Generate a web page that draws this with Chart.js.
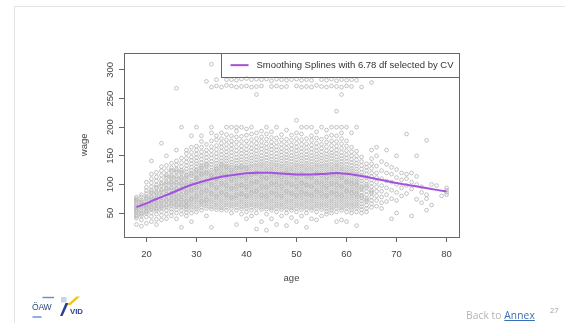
<!DOCTYPE html>
<html><head><meta charset="utf-8">
<script src="https://cdn.jsdelivr.net/npm/chart.js@4.4.0/dist/chart.umd.min.js"></script>
<style>
html,body{margin:0;padding:0;background:#fff;width:565px;height:323px;overflow:hidden;}
#wrap{position:relative;width:565px;height:323px;}
#c{position:absolute;left:0;top:0;}
.frameTop{position:absolute;left:14px;top:6px;width:551px;height:1px;background:#e4e4e4;}
.frameLeft{position:absolute;left:14px;top:6px;width:1px;height:317px;background:#e4e4e4;}
.back{position:absolute;left:466px;top:308px;font:10.2px "Open Sans",sans-serif;color:#b4b4b4;white-space:nowrap;letter-spacing:0.1px;}
.back span{color:#3a6db3;text-decoration:underline;}
.page{position:absolute;left:550px;top:305px;font:7.5px "Open Sans",sans-serif;color:#a0a0a0;}
#logo{position:absolute;left:28px;top:292px;}
</style></head>
<body><div id="wrap">
<div class="frameTop"></div><div class="frameLeft"></div>
<canvas id="c" width="565" height="323"></canvas>
<svg id="logo" width="64" height="30" viewBox="0 0 64 30">
  <line x1="14.5" y1="5.5" x2="26" y2="5.5" stroke="#5b8fd6" stroke-width="1.4"/>
  <text x="4" y="17.5" font-family="Liberation Sans" font-size="8.6" fill="#2d4a7a" letter-spacing="-0.3">ÖAW</text>
  <line x1="4.5" y1="25" x2="13.5" y2="25" stroke="#5b8fd6" stroke-width="1.4"/>
  <rect x="33" y="5" width="5.5" height="5.5" fill="#c9d4e8"/>
  <polygon points="39,13 48.5,4.5 52,4.5 42.5,13" fill="#f2c21b"/>
  <polygon points="32,24 37.5,11 40.5,11 34.5,24" fill="#2b3f8f"/>
  <text x="42" y="21.5" font-family="Liberation Sans" font-size="7.8" font-weight="bold" fill="#2b3f8f">VID</text>
</svg>
<div class="back">Back to <span>Annex</span></div>
<div class="page">27</div>
</div>
<script>
const xTicks=[20,30,40,50,60,70,80];
const yTicks=[50,100,150,200,250,300];
const xTitle='age';
const yTitle='wage';
const legendLabel='Smoothing Splines with 6.78 df selected by CV';

const ageValues=[18,19,20,21,22,23,24,25,26,27,28,29,30,31,32,33,34,35,36,37,38,39,40,41,42,43,44,45,46,47,48,49,50,51,52,53,54,55,56,57,58,59,60,61,62,63,64,65,66,67,68,69,70,71,72,73,74,75,76,77,78,79,80];

const wageColumns=[
[30,41,46,50,53,57,60,62,65,68,71,75,78,44,55,73],
[27,38,45,50,54,58,61,65,69,73,78,82,48,63,70],
[32,43,49,54,58,62,66,70,74,79,84,89,95,104,52,64,76,60],
[35,44,51,56,61,65,70,74,79,84,90,96,103,110,118,141,59,68,77,87],
[30,39,48,54,59,63,68,72,77,82,87,93,99,106,113,121,57,66,75,85,95],
[38,46,53,58,63,67,72,76,81,86,91,97,103,109,116,124,131,172,61,70,79,89,100],
[40,48,55,60,65,70,74,79,84,89,94,99,105,111,117,124,133,150,63,72,82,92,102,114],
[45,52,57,62,67,71,76,80,85,90,95,100,105,110,116,122,129,137,65,74,83,93,103,113,125],
[40,50,56,61,66,70,75,79,84,89,94,99,104,109,115,121,127,134,141,160,268,64,73,82,92,102,112,124],
[25,48,55,60,65,69,74,78,83,88,93,98,103,108,113,119,125,131,138,146,200,63,72,81,91,101,111,122],
[45,51,56,60,64,68,72,76,80,84,88,92,96,100,104,108,112,117,122,127,133,139,146,154,160,70,86,98,115,62],
[35,50,56,60,64,68,72,76,80,84,88,92,96,100,105,110,115,120,125,130,136,142,148,156,165,185,74,90,102,118],
[52,57,61,65,69,73,77,81,85,89,93,97,101,105,109,113,117,121,126,131,136,141,147,153,160,167,200,79,95,111,124],
[55,60,64,68,72,76,80,84,88,92,96,100,104,108,112,116,120,124,128,133,138,144,150,157,165,175,185,70,86,102,118,130],
[45,58,62,66,70,74,78,82,86,90,94,98,102,106,110,114,118,122,126,131,136,141,147,153,160,170,280,73,89,105,121,134],
[25,57,61,65,69,73,77,81,85,89,93,97,101,105,109,113,117,121,125,130,135,140,146,152,159,166,176,190,200,310,270,84,100,116],
[56,60,64,68,72,76,80,84,88,92,96,100,104,108,112,116,120,124,128,132,137,142,148,154,161,168,178,185,283,272,79,95,111,127],
[55,59,63,67,71,75,79,83,87,91,95,99,103,107,111,115,119,123,127,131,136,141,146,152,158,165,172,180,190,270,86,102,118,134],
[55,60,64,68,72,76,80,84,88,92,96,100,104,108,112,116,120,124,128,132,136,141,146,151,157,163,170,178,187,200,283,273,82,98,114,130],
[50,58,62,66,70,74,78,82,86,90,94,98,102,106,110,114,118,122,126,130,134,139,144,150,156,162,169,176,185,200,283,272,77,93,109,125],
[30,55,60,64,68,72,76,80,84,88,92,96,100,104,108,112,116,120,124,128,132,137,142,147,153,159,166,174,183,193,200,282,270,81,97,113,129],
[48,57,61,65,69,73,77,81,85,89,93,97,101,105,109,113,117,121,125,129,133,138,143,148,154,160,167,175,184,200,284,271,83,99,115,131],
[40,52,58,62,66,70,74,78,82,86,90,94,98,102,106,110,114,118,122,126,130,134,139,144,149,155,161,168,176,186,197,285,272,80,96,112,128],
[45,55,60,64,68,72,76,80,84,88,92,96,100,104,108,112,116,120,124,128,132,136,141,146,151,157,163,170,178,188,200,283,270,85,101,117],
[22,50,58,62,66,70,74,78,82,86,90,94,98,102,106,110,114,118,122,126,130,134,138,143,148,153,159,165,172,180,190,257,284,271,88,104,120],
[35,56,60,64,68,72,76,80,84,88,92,96,100,104,108,112,116,120,124,128,132,136,140,145,150,156,162,168,175,183,193,283,272,81,97,113],
[20,48,57,61,65,69,73,77,81,85,89,93,97,101,105,109,113,117,121,125,129,133,137,142,147,152,158,164,171,179,188,200,284,79,95,111],
[40,55,59,63,67,71,75,79,83,87,91,95,99,103,107,111,115,119,123,127,131,135,139,144,149,155,161,167,174,182,192,281,271,86,102,118],
[30,52,58,62,66,70,74,78,82,86,90,94,98,102,106,110,114,118,122,126,130,134,138,143,148,154,160,166,173,181,200,284,272,83,99,115],
[45,56,60,64,68,72,76,80,84,88,92,96,100,104,108,112,116,120,124,128,132,136,141,146,151,157,163,170,178,187,283,270,80,97,113],
[28,50,57,61,65,69,73,77,81,85,89,93,97,101,105,109,113,117,121,125,129,133,137,142,147,152,158,164,171,179,195,282,271,88,104,120],
[42,55,59,63,67,71,75,79,83,87,91,95,99,103,107,111,115,119,123,127,131,135,140,145,150,156,162,169,177,186,283,84,100,116],
[35,52,58,62,66,70,74,78,82,86,90,94,98,102,106,110,114,118,122,126,130,134,138,143,148,153,159,165,172,180,190,212,284,272,81,97,113],
[45,56,60,64,68,72,76,80,84,88,92,96,100,104,108,112,116,120,124,128,132,136,141,146,151,157,163,170,178,188,200,282,270,86,102,118],
[25,50,57,61,65,69,73,77,81,85,89,93,97,101,105,109,113,117,121,125,129,133,137,142,147,152,158,164,171,180,200,283,271,83,99,115],
[40,55,59,63,67,71,75,79,83,87,91,95,99,103,107,111,115,119,123,127,131,135,140,145,150,156,162,169,177,185,200,282,270,80,96,112],
[38,52,58,62,66,70,74,78,82,86,90,94,98,102,106,110,114,118,122,126,130,134,138,143,148,153,159,165,172,181,192,273,87,103,119],
[45,56,60,64,68,72,76,80,84,88,92,96,100,104,108,112,116,120,124,128,132,136,141,146,151,157,163,170,179,200,283,271,84,100,116],
[48,53,58,62,66,70,74,78,82,86,90,94,98,102,106,110,114,118,122,126,130,134,138,143,148,153,159,166,174,183,195,282,270,81,97,113],
[50,55,59,63,67,71,75,79,83,87,91,95,99,103,107,111,115,119,123,127,131,135,140,145,150,155,161,168,176,186,200,284,272,86,102,118],
[35,52,58,62,66,70,74,78,82,86,90,94,98,102,106,110,114,118,122,126,130,134,138,143,148,154,160,167,175,185,200,228,281,271,83,99,115],
[38,55,59,63,67,71,75,79,83,87,91,95,99,103,107,111,115,119,123,127,131,135,140,145,150,156,163,171,180,190,200,257,283,270,80,96,112],
[35,52,58,62,66,70,74,78,82,86,90,94,98,102,106,110,114,118,122,126,130,135,140,146,152,159,167,176,200,282,272,88,104],
[50,56,60,64,68,72,76,80,84,88,92,96,100,104,108,112,116,120,124,128,133,138,144,150,157,165,190,283,271,85,101],
[28,52,58,62,66,70,74,78,82,86,90,94,98,102,106,110,114,118,122,127,132,137,143,150,158,200,282,83,99],
[50,56,61,66,71,76,81,86,91,96,101,106,111,116,121,127,133,140,148,270,79,94],
[52,58,64,70,76,82,88,94,100,106,112,118,124,130,136,73,97],
[60,66,72,78,84,90,96,102,108,114,120,128,136,145,160,278,87],
[62,72,80,88,96,104,112,120,132,150,165],
[58,68,78,88,98,110,124,140],
[70,82,94,106,120,135,160],
[40,75,90,104,118,130],
[50,72,86,100,112,126,150],
[80,94,108,120],
[84,98,110,118,188],
[45,92,104,120],
[74,100,114,150],
[68,86,96],
[55,75,82,177],
[64,100],
[98],
[80],
[82,86,90,94]
];

const splineAge=[18,20,22,25,28,30,33,35,38,40,42,45,47,50,53,55,57,58,60,62,64,66,68,70,72,75,78,80];
const splineWage=[60.5,67,74.5,85,96,102,109.5,113.5,117.5,119.5,120.5,120.5,119,117.5,117.5,118,119.5,120,118.5,116,113,109.5,106,102.5,99.5,95,90.5,87.5];

const scatterData=[];
ageValues.forEach((a,i)=>wageColumns[i].forEach(w=>scatterData.push({x:a,y:w})));
const splineData=splineAge.map((a,i)=>({x:a,y:splineWage[i]}));

const FONT='"Liberation Sans", Arial, sans-serif';
const inkColor='#444';
const boxColor='#666';

const rPlot={
  id:'rPlot',
  afterDatasetsDraw(chart){
    const {ctx,chartArea:a,scales:{y}}=chart;
    ctx.save();
    ctx.font='9.5px '+FONT;
    const tw=ctx.measureText(legendLabel).width;
    const bw=tw+41, bh=23.5;
    const bx=a.right-bw, by=a.top;
    ctx.fillStyle='#fff';
    ctx.fillRect(bx,by,bw,bh);
    ctx.strokeStyle=boxColor; ctx.lineWidth=1;
    ctx.strokeRect(Math.round(bx)+0.5,Math.round(by)+0.5,Math.round(bw),Math.round(bh));
    const cy=by+bh/2+0.8;
    ctx.strokeStyle=chart.data.datasets[0].borderColor; ctx.lineWidth=2;
    ctx.beginPath(); ctx.moveTo(bx+9.5,cy); ctx.lineTo(bx+27.5,cy); ctx.stroke();
    ctx.fillStyle='#333'; ctx.textAlign='left'; ctx.textBaseline='middle';
    ctx.fillText(legendLabel,bx+35.5,cy);
    ctx.strokeStyle=boxColor; ctx.lineWidth=1;
    ctx.strokeRect(Math.round(a.left)+0.5,Math.round(a.top)+0.5,Math.round(a.right-a.left),Math.round(a.bottom-a.top));
    ctx.fillStyle=inkColor; ctx.font='9.5px '+FONT; ctx.textAlign='center'; ctx.textBaseline='middle';
    yTicks.forEach(v=>{
      const py=y.getPixelForValue(v);
      ctx.save(); ctx.translate(a.left-13.3,py); ctx.rotate(-Math.PI/2); ctx.fillText(String(v),0,0); ctx.restore();
    });
    ctx.fillText(xTitle,(a.left+a.right)/2,278.5);
    ctx.save(); ctx.translate(84.7,(a.top+a.bottom)/2); ctx.rotate(-Math.PI/2); ctx.fillText(yTitle,0,0); ctx.restore();
    ctx.restore();
  }
};

new Chart(document.getElementById('c'),{
  data:{datasets:[
    {type:'line',label:legendLabel,data:splineData,borderColor:'#a352e0',borderWidth:2,pointRadius:0,tension:0.4,cubicInterpolationMode:'monotone',fill:false,order:0},
    {type:'scatter',label:'wage',data:scatterData,pointStyle:'circle',pointRadius:1.85,borderWidth:0.85,borderColor:'#b6b6b6',backgroundColor:'rgba(0,0,0,0)',order:1}
  ]},
  options:{
    responsive:false,animation:false,devicePixelRatio:1,events:[],
    layout:{padding:{left:0,right:106,top:52.6,bottom:0}},
    plugins:{legend:{display:false},tooltip:{enabled:false}},
    scales:{
      x:{type:'linear',min:15.52,max:82.48,
        afterBuildTicks:s=>{s.ticks=xTicks.map(v=>({value:v}));},
        afterFit:s=>{s.height=86;},
        grid:{drawOnChartArea:false,drawTicks:true,tickLength:5,color:boxColor,lineWidth:1},
        border:{display:false},
        ticks:{padding:7,color:inkColor,font:{family:FONT,size:9.5},maxRotation:0,autoSkip:false}},
      y:{type:'linear',min:8.16,max:330.27,
        afterBuildTicks:s=>{s.ticks=yTicks.map(v=>({value:v}));},
        afterFit:s=>{s.width=124;},
        grid:{drawOnChartArea:false,drawTicks:true,tickLength:5,color:boxColor,lineWidth:1},
        border:{display:false},
        ticks:{display:false}}
    }
  },
  plugins:[rPlot]
});
</script>
</body></html>
